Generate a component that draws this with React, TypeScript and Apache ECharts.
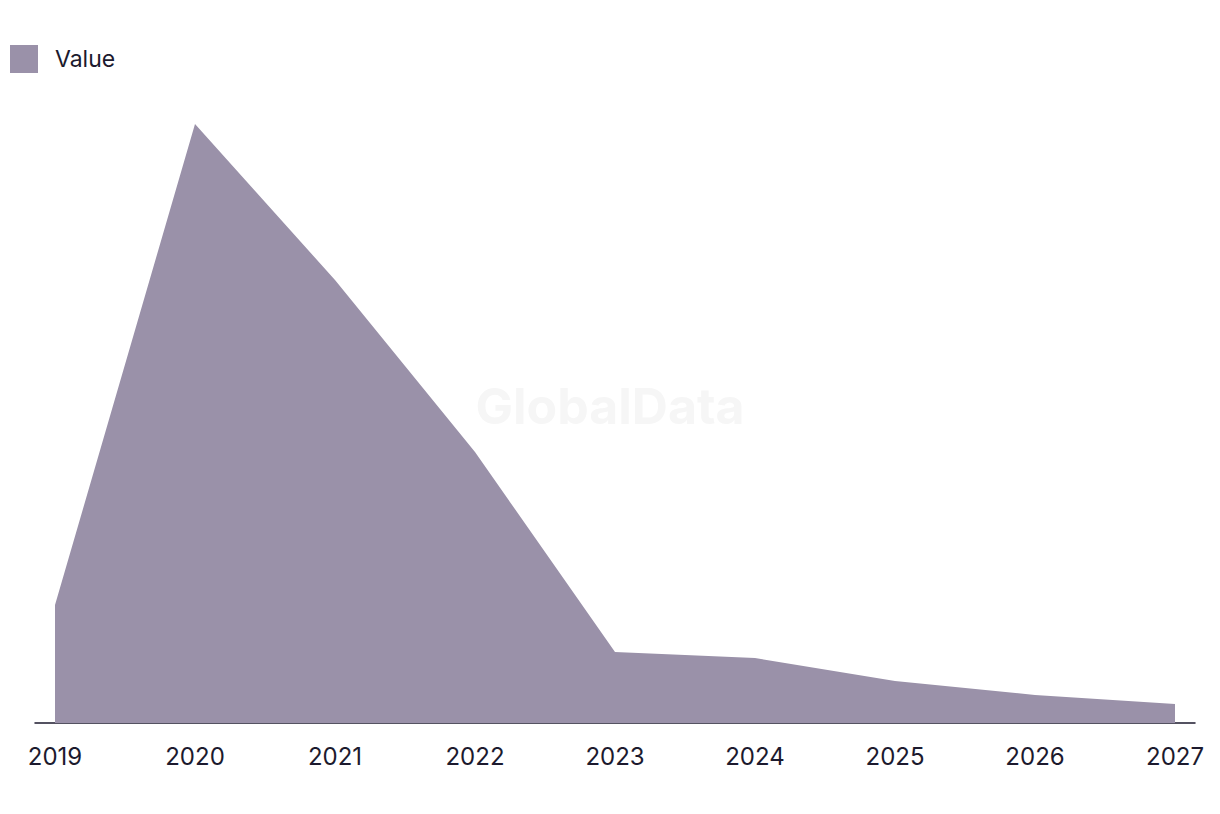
import React, { useEffect, useRef } from "react";
import * as echarts from "echarts";

const years = [2019, 2020, 2021, 2022, 2023, 2024, 2025, 2026, 2027];
const values = [118, 599, 443, 271, 71, 65, 42, 28, 19];
const seriesName = "Value";
const areaColor = "#9a91a9";
const textColor = "#1c1a2e";

export default function App() {
  const ref = useRef<HTMLDivElement>(null);
  useEffect(() => {
    if (!ref.current) return;
    const chart = echarts.init(ref.current, undefined, { renderer: "svg" });
    chart.setOption({
      animation: false,
      backgroundColor: "#ffffff",
      textStyle: { fontFamily: "Inter, 'Noto Sans', sans-serif" },
      legend: {
        left: 5,
        top: 40,
        icon: "rect",
        itemWidth: 28,
        itemHeight: 28,
        data: [seriesName],
        textStyle: { fontSize: 23, color: textColor, padding: [0, 0, 0, 12] },
      },
      graphic: [
        {
          type: "text",
          left: "center",
          top: 381,
          silent: true,
          style: {
            text: "GlobalData",
            fontSize: 50,
            fontWeight: "bold",
            fill: "#f6f6f6",
            fontFamily: "Inter, 'Noto Sans', sans-serif",
          },
        },
      ],
      grid: { left: 35, right: 25, top: 124, bottom: 91, containLabel: false },
      xAxis: {
        type: "value",
        min: years[0] - 1 / 7,
        max: years[years.length - 1] + 1 / 7,
        splitLine: { show: false },
        axisTick: { show: false },
        axisLine: { show: true, lineStyle: { color: textColor, width: 1.5 } },
        axisLabel: {
          customValues: years,
          formatter: (v: number) => String(Math.round(v)),
          fontSize: 24,
          color: textColor,
          margin: 21,
        },
      },
      yAxis: {
        type: "value",
        min: 0,
        max: 599,
        show: false,
        splitLine: { show: false },
      },
      series: [
        {
          name: seriesName,
          type: "line",
          data: years.map((y, i) => [y, values[i]]),
          symbol: "none",
          smooth: false,
          lineStyle: { width: 0, color: areaColor },
          itemStyle: { color: areaColor },
          areaStyle: { color: areaColor, opacity: 1 },
        },
      ],
    });
    return () => chart.dispose();
  }, []);
  return <div ref={ref} style={{ width: 1220, height: 814, margin: -8 }} />;
}
